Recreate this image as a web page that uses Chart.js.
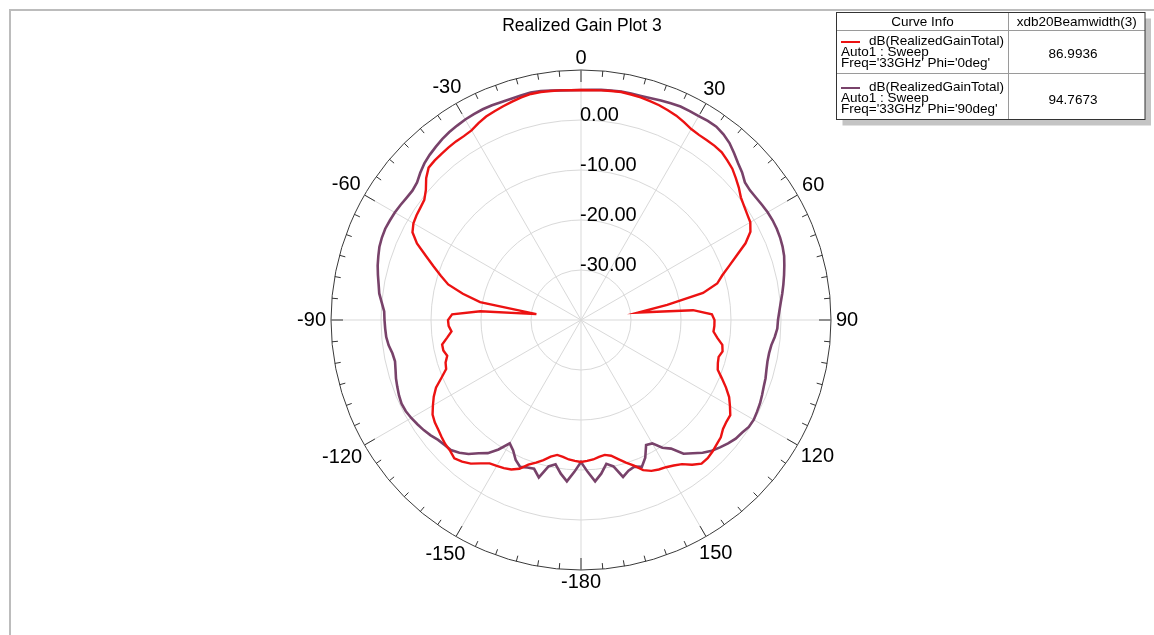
<!DOCTYPE html>
<html>
<head>
<meta charset="utf-8">
<title>Realized Gain Plot 3</title>
<script src="https://cdn.jsdelivr.net/npm/chart.js@4.4.1/dist/chart.umd.min.js"></script>
<style>
  html, body { margin: 0; padding: 0; background: #fff; }
  #wrap { width: 1154px; height: 635px; }
</style>
</head>
<body>
<div id="wrap"><canvas id="plot" width="1154" height="635"></canvas></div>
<script>
// theta grid, -180 .. 177.5 deg in 2.5 deg steps
var STEP = 2.5;
var thetaDeg = [];
for (var a = -180; a < 180; a += STEP) thetaDeg.push(a);

// dB(RealizedGainTotal)  Freq='33GHz' Phi='0deg'   (one row = 30 deg)
var gainPhi0 = [
  -11.6, -11.8, -12.0, -12.4, -12.6, -12.0, -11.0, -10.1, -9.2, -7.8, -7.0, -6.6,   // -180
  -6.3, -6.0, -5.0, -3.8, -3.0, -2.5, -3.0, -3.2, -3.6, -4.0, -4.3, -4.8,           // -150
  -5.8, -6.8, -8.0, -9.8, -11.3, -11.6, -12.3, -11.8, -11.8, -13.0, -14.0, -13.5,   // -120
  -13.4, -14.2, -19.8, -31.0, -19.5, -15.8, -12.5, -10.6, -8.6, -6.4, -3.8, -2.0,   // -90
  -1.3, -1.0, -0.8, -0.5, 0.5, 2.0, 3.1, 3.3, 3.4, 3.5, 3.6, 3.6,                   // -60
  3.8, 4.4, 4.9, 5.2, 5.5, 5.8, 6.1, 6.3, 6.3, 6.2, 6.1, 6.0,                       // -30
  6.0, 6.0, 6.1, 6.2, 6.3, 6.2, 6.1, 5.9, 5.7, 5.4, 5.1, 4.6,                       // 0
  4.1, 3.9, 3.9, 3.9, 3.8, 3.3, 2.8, 2.0, 1.2, 0.3, -0.2, -0.6,                     // 30
  -0.9, -1.8, -3.7, -6.3, -8.5, -10.4, -11.8, -15.0, -22.5, -28.5, -17.5, -13.8,    // 60
  -13.3, -13.3, -13.4, -12.5, -11.3, -11.0, -11.5, -11.3, -10.9, -9.5, -8.0, -6.6,  // 90
  -5.6, -4.6, -4.5, -4.2, -3.5, -3.2, -2.8, -2.5, -2.5, -3.5, -4.8, -5.5,           // 120
  -6.0, -6.3, -6.7, -7.5, -9.0, -10.1, -11.2, -12.2, -12.6, -12.4, -12.0, -11.8     // 150
];

// dB(RealizedGainTotal)  Freq='33GHz' Phi='90deg'
var gainPhi90 = [
  -11.6, -9.6, -7.6, -9.0, -10.7, -10.0, -7.4, -8.8, -8.6, -8.2, -9.1, -10.6,       // -180
  -11.5, -9.3, -7.5, -6.4, -5.0, -4.0, -3.2, -3.0, -2.7, -2.1, -1.6, -1.2,          // -150
  -0.8, -0.5, -0.4, -0.6, -0.9, -1.2, -1.6, -1.9, -1.7, -1.2, -0.9, -0.8,           // -120
  -0.7, -0.6, 0.0, 0.7, 1.1, 1.6, 2.1, 2.5, 2.9, 3.1, 3.2, 3.1,                     // -90
  3.0, 2.8, 2.6, 2.5, 2.8, 3.6, 4.3, 4.8, 5.2, 5.6, 5.9, 6.1,                       // -60
  6.3, 6.4, 6.5, 6.5, 6.4, 6.4, 6.5, 6.6, 6.5, 6.3, 6.1, 6.0,                       // -30
  6.0, 6.1, 6.2, 6.3, 6.4, 6.4, 6.4, 6.5, 6.7, 6.9, 7.1, 7.1,                       // 0
  7.1, 7.2, 7.2, 6.8, 6.2, 5.3, 4.4, 3.7, 2.8, 2.6, 2.7, 2.9,                       // 30
  3.1, 3.2, 3.2, 3.1, 2.9, 2.6, 2.1, 1.6, 1.1, 0.6, 0.1, -0.3,                      // 60
  -0.6, -0.7, -1.1, -1.6, -1.8, -1.8, -1.6, -1.3, -1.1, -0.8, -0.5, -0.3,           // 90
  -0.1, -0.2, -0.7, -1.0, -1.6, -2.3, -3.0, -4.0, -5.2, -6.3, -8.6, -9.7,           // 120
  -11.5, -11.8, -9.6, -8.2, -8.8, -8.4, -7.5, -10.0, -10.8, -9.0, -7.6, -9.6        // 150
];

var angleTicks = [-180, -150, -120, -90, -60, -30, 0, 30, 60, 90, 120, 150];
var ringTicks = [0, -10, -20, -30];
var curveColors = ['rgb(236,18,18)', 'rgb(120,66,106)'];
var curvePhi = ["Freq='33GHz' Phi='0deg'", "Freq='33GHz' Phi='90deg'"];
var beamwidth = ['86.9936', '94.7673'];

var FONT = '"Liberation Sans", Arial, sans-serif';

var polarDecor = {
    id: 'polarDecor',
    beforeDraw: function (chart) {
        var ctx = chart.ctx;
        ctx.save();
        ctx.fillStyle = '#fff';
        ctx.fillRect(0, 0, chart.width, chart.height);
        ctx.strokeStyle = '#bcbcbc';
        ctx.lineWidth = 2;
        ctx.beginPath();
        ctx.moveTo(10, chart.height);
        ctx.lineTo(10, 10);
        ctx.lineTo(chart.width, 10);
        ctx.stroke();
        ctx.restore();
    },
    afterDraw: function (chart) {
        var s = chart.scales.r;
        var ctx = chart.ctx;
        var R = s.drawingArea;
        var i;
        ctx.save();

        //ticks on the outer circle, every 5 deg
        ctx.strokeStyle = '#333';
        ctx.lineWidth = 1;
        for (i = 0; i < thetaDeg.length; i++) {
            if (thetaDeg[i] % 5 !== 0) continue;
            var len = thetaDeg[i] % 30 === 0 ? 12 : 6;
            var p1 = s.getPointPosition(i, R);
            var p2 = s.getPointPosition(i, R - len);
            ctx.beginPath();
            ctx.moveTo(p1.x, p1.y);
            ctx.lineTo(p2.x, p2.y);
            ctx.stroke();
        }

        //angle labels
        ctx.fillStyle = '#000';
        ctx.font = '20px ' + FONT;
        ctx.textAlign = 'center';
        ctx.textBaseline = 'middle';
        angleTicks.forEach(function (deg) {
            var idx = thetaDeg.indexOf(deg);
            var txt = String(deg);
            var w = ctx.measureText(txt).width;
            var ang = s.getPointPosition(idx, R).angle;
            var d = R + 5 + w / 2 * Math.abs(Math.cos(ang)) + 7 * Math.abs(Math.sin(ang));
            var q = s.getPointPosition(idx, d);
            ctx.fillText(txt, q.x, q.y);
        });

        //ring labels along the 0 deg axis
        var i0 = thetaDeg.indexOf(0);
        ctx.textAlign = 'left';
        ctx.textBaseline = 'alphabetic';
        ringTicks.forEach(function (v) {
            var q = s.getPointPositionForValue(i0, v);
            ctx.fillText(v.toFixed(2), q.x - 1, q.y + 1);
        });

        //title
        ctx.textAlign = 'center';
        ctx.font = '17.5px ' + FONT;
        ctx.fillText('Realized Gain Plot 3', 582, 31);

        //curve info table
        var bx = 836.5, by = 12.5, bw = 308.5, bh = 107, col = 1008.5, head = 30.5, mid = 73.5;
        ctx.fillStyle = '#c4c4c4';
        ctx.fillRect(bx + 6, by + 6, bw, bh);
        ctx.fillStyle = '#fff';
        ctx.fillRect(bx, by, bw, bh);
        ctx.strokeStyle = '#9a9a9a';
        ctx.beginPath();
        ctx.moveTo(col, by); ctx.lineTo(col, by + bh);
        ctx.moveTo(bx, head); ctx.lineTo(bx + bw, head);
        ctx.moveTo(bx, mid); ctx.lineTo(bx + bw, mid);
        ctx.stroke();
        ctx.strokeStyle = '#333';
        ctx.strokeRect(bx, by, bw, bh);

        ctx.fillStyle = '#000';
        ctx.font = '13.5px ' + FONT;
        ctx.textBaseline = 'middle';
        ctx.fillText('Curve Info', (bx + col) / 2, 22);
        ctx.fillText('xdb20Beamwidth(3)', (col + bx + bw) / 2, 22);

        chart.data.datasets.forEach(function (ds, k) {
            var top = k === 0 ? 41 : 87;
            ctx.strokeStyle = curveColors[k];
            ctx.lineWidth = 2;
            ctx.beginPath();
            ctx.moveTo(841, top + 1);
            ctx.lineTo(860, top + 1);
            ctx.stroke();
            ctx.fillStyle = '#000';
            ctx.textAlign = 'left';
            ctx.fillText(ds.label, 869, top);
            ctx.fillText('Auto1 : Sweep', 841, top + 11.5);
            ctx.fillText(curvePhi[k], 841, top + 22.5);
            ctx.textAlign = 'center';
            ctx.fillText(beamwidth[k], 1073, top + 13);
        });

        ctx.restore();
    }
};

var chart = new Chart(document.getElementById('plot'), {
    type: 'radar',
    data: {
        labels: thetaDeg,
        datasets: [
            {
                label: 'dB(RealizedGainTotal)',
                data: gainPhi0,
                borderColor: curveColors[0],
                backgroundColor: 'transparent',
                borderWidth: 2.4,
                pointRadius: 0,
                fill: false
            },
            {
                label: 'dB(RealizedGainTotal)',
                data: gainPhi90,
                borderColor: curveColors[1],
                backgroundColor: 'transparent',
                borderWidth: 2.6,
                pointRadius: 0,
                fill: false
            }
        ]
    },
    options: {
        responsive: false,
        animation: false,
        layout: {
            padding: { top: 70, bottom: 65, left: 8, right: 0 }
        },
        elements: {
            line: { tension: 0 }
        },
        plugins: {
            legend: { display: false },
            title: { display: false },
            tooltip: { enabled: false }
        },
        scales: {
            r: {
                min: -40,
                max: 10,
                startAngle: 180,
                ticks: { display: false, stepSize: 10 },
                pointLabels: { display: false },
                grid: {
                    circular: true,
                    lineWidth: 1,
                    color: function (ctx) {
                        return ctx.tick && ctx.tick.value === 10 ? '#3a3a3a' : '#d9d9d9';
                    }
                },
                angleLines: {
                    color: '#d9d9d9',
                    lineWidth: function (ctx) {
                        return ctx.index % 12 === 0 ? 1 : 0;
                    }
                }
            }
        }
    },
    plugins: [polarDecor]
});
</script>
</body>
</html>
